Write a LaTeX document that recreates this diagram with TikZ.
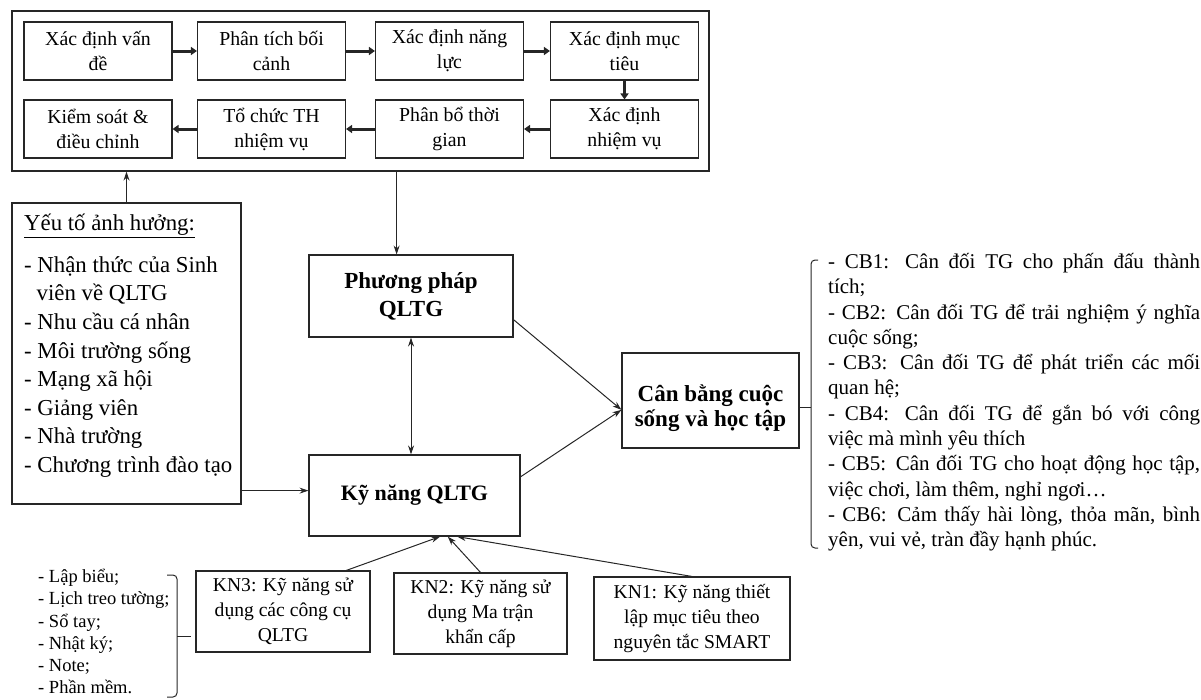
\documentclass[tikz,border=0pt]{standalone}
\usepackage{fontspec}
\setmainfont{Liberation Serif}
\usetikzlibrary{arrows.meta,calc}
\setlength{\parindent}{0pt}
\newcommand{\cbline}[1]{\makebox[372pt][s]{#1}}

\begin{document}
\begin{tikzpicture}[x=1pt,y=-1pt,
    stepbox/.style={draw=black!85, line width=1.1pt, minimum width=148pt, minimum height=58pt, align=center, inner sep=1pt, font=\fontsize{19.8}{25}\selectfont},
    mainbox/.style={draw=black!85, line width=1.1pt, align=center, inner sep=1pt, font=\bfseries\fontsize{23}{28}\selectfont},
    knbox/.style={draw=black!85, line width=1.1pt, align=center, inner sep=1pt, minimum height=81pt, font=\fontsize{19.6}{25}\selectfont},
    flow/.style={draw=black!85, line width=3pt, -{Triangle[length=6pt,width=8pt]}},
    link/.style={draw=black!85, line width=1pt, -{Stealth[length=9pt,width=6pt]}},
    dlink/.style={draw=black!85, line width=1pt, {Stealth[length=9pt,width=6pt]}-{Stealth[length=9pt,width=6pt]}}]
  \useasboundingbox (0,0) rectangle (1201,699);

  % quy trinh
  \node[draw=black!85, line width=1.1pt, minimum width=697pt, minimum height=160pt] at (360.5,91) (top) {};
  \node[stepbox] at (98,51) (vande) {Xác định vấn\\đề};
  \node[stepbox] at (271.5,51) (boicanh) {Phân tích bối\\cảnh};
  \node[stepbox] at (449.5,51) (nangluc) {Xác định năng\\lực};
  \node[stepbox] at (624.5,51) (muctieu) {Xác định mục\\tiêu};
  \node[stepbox] at (624.5,129) (nhiemvu) {Xác định\\nhiệm vụ};
  \node[stepbox] at (449.5,129) (thoigian) {Phân bổ thời\\gian};
  \node[stepbox] at (271.5,129) (tochuc) {Tổ chức TH\\nhiệm vụ};
  \node[stepbox] at (98,129) (kiemsoat) {Kiểm soát \&\\điều chỉnh};

  % yeu to
  \node[draw=black!85, line width=1.1pt, minimum width=229pt, minimum height=301pt] at (126.5,353.5) (yeuto) {};
  \node[anchor=north west, inner sep=0pt, align=left, font=\fontsize{22.8}{28.6}\selectfont] at (24,214) (yeutotext)
    {\underline{Yếu tố ảnh hưởng:}\\[13pt]- Nhận thức của Sinh\\\hspace*{12.5pt}viên về QLTG\\- Nhu cầu cá nhân\\- Môi trường sống\\- Mạng xã hội\\- Giảng viên\\- Nhà trường\\- Chương trình đào tạo};

  % trung tam
  \node[mainbox, minimum width=204pt, minimum height=82pt] at (411,296) (pp) {Phương pháp\\QLTG};
  \node[mainbox, minimum width=211pt, minimum height=81pt, font=\bfseries\fontsize{22}{28}\selectfont] at (414.5,495.5) (kn) {Kỹ năng QLTG};
  \node[mainbox, minimum width=177pt, minimum height=95pt, font=\bfseries\fontsize{23}{25}\selectfont] at (710.5,400.5) (cb) {\rule{0pt}{33pt}Cân bằng cuộc\\sống và học tập};

  % ky nang
  \node[knbox, minimum width=174pt] at (283,611.5) (kn3) {KN3: Kỹ năng sử\\dụng các công cụ\\QLTG};
  \node[knbox, minimum width=173pt] at (480.5,613.5) (kn2) {KN2: Kỹ năng sử\\dụng Ma trận\\khẩn cấp};
  \node[knbox, minimum width=196pt, minimum height=83pt] at (692,618.5) (kn1) {KN1: Kỹ năng thiết\\lập mục tiêu theo\\nguyên tắc SMART};

  \node[anchor=north west, inner sep=0pt, align=left, font=\fontsize{18.5}{22.2}\selectfont] at (38,569) (congcu)
    {- Lập biểu;\\- Lịch treo tường;\\- Sổ tay;\\- Nhật ký;\\- Note;\\- Phần mềm.};

  \node[anchor=north west, inner sep=0pt, align=left, font=\fontsize{21}{25.3}\selectfont] at (828,253) (cblist)
    {\cbline{- CB1: Cân đối TG cho phấn đấu thành}\\tích;\\
     \cbline{- CB2: Cân đối TG để trải nghiệm ý nghĩa}\\cuộc sống;\\
     \cbline{- CB3: Cân đối TG để phát triển các mối}\\quan hệ;\\
     \cbline{- CB4: Cân đối TG để gắn bó với công}\\việc mà mình yêu thích\\
     \cbline{- CB5: Cân đối TG cho hoạt động học tập,}\\việc chơi, làm thêm, nghỉ ngơi…\\
     \cbline{- CB6: Cảm thấy hài lòng, thỏa mãn, bình}\\yên, vui vẻ, tràn đầy hạnh phúc.};

  % mui ten
  \draw[flow] (vande) -- (boicanh);
  \draw[flow] (boicanh) -- (nangluc);
  \draw[flow] (nangluc) -- (muctieu);
  \draw[flow] (muctieu) -- (nhiemvu);
  \draw[flow] (nhiemvu) -- (thoigian);
  \draw[flow] (thoigian) -- (tochuc);
  \draw[flow] (tochuc) -- (kiemsoat);

  \coordinate (ppin) at ($(pp.north west)!0.43!(pp.north east)$);
  \draw[link] (yeuto.north) -- (yeuto.north |- top.south);
  \draw[link] (ppin |- top.south) -- (ppin);
  \draw[dlink] (pp.south) -- (pp.south |- kn.north);
  \draw[link] (yeuto.-50) -- (yeuto.-50 -| kn.west);
  \draw[link] (pp.-13) -- (cb.186);
  \draw[link] (kn.10) -- (cb.186);
  \draw[link] (kn3.33) -- (kn.-58);
  \draw[link] (kn2.north) -- (kn.-51);
  \draw[link] (kn1.north) -- (kn.-44);

  % ngoac
  \draw[black!85, line width=1pt, rounded corners=4pt] (818,260) -| (811,407) |- (818,548);
  \draw[black!85, line width=1pt] (811,407) -- (cb.east |- 811,407);
  \draw[black!85, line width=1pt, rounded corners=4pt] (167,575) -| (177,636) |- (167,697);
  \draw[black!85, line width=1pt] (177,636) -- (191,636);
\end{tikzpicture}
\end{document}
